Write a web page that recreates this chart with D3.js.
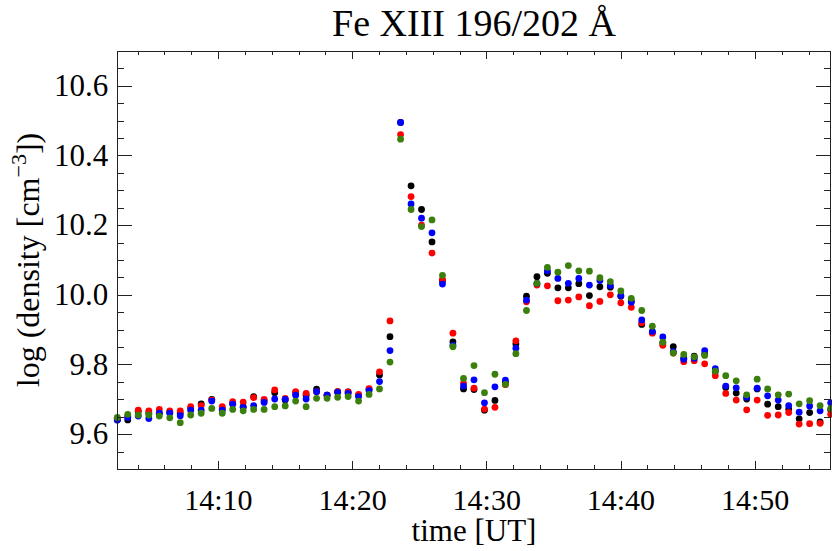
<!DOCTYPE html>
<meta charset="utf-8">
<style>
body { margin: 0; background: #fff; }
text { font-family: "Liberation Serif", "DejaVu Serif", serif; fill: #000; }
.frame line, .frame rect { stroke: #222; shape-rendering: crispEdges; }
</style>
<script src="https://d3js.org/d3.v7.min.js"></script>
<div id="chart"></div>
<script>

// minutes after 14:00 UT for each sample
var times = [2.47, 3.25, 4.03, 4.82, 5.60, 6.38, 7.16, 7.94, 8.72, 9.51,
  10.29, 11.07, 11.85, 12.63, 13.41, 14.20, 14.98, 15.76, 16.54, 17.32,
  18.10, 18.89, 19.67, 20.45, 21.23, 22.01, 22.79, 23.58, 24.36, 25.14,
  25.92, 26.70, 27.48, 28.27, 29.05, 29.83, 30.61, 31.39, 32.17, 32.96,
  33.74, 34.52, 35.30, 36.08, 36.86, 37.65, 38.43, 39.21, 39.99, 40.77,
  41.55, 42.34, 43.12, 43.90, 44.68, 45.46, 46.24, 47.03, 47.81, 48.59,
  49.37, 50.15, 50.93, 51.72, 52.50, 53.28, 54.06, 54.84, 55.63];

var blackVals = [9.641, 9.641, 9.665, 9.660, 9.660, 9.663, 9.660, 9.675, 9.687, 9.700,
  9.674, 9.688, 9.679, 9.708, 9.696, 9.719, 9.698, 9.719, 9.712, 9.729,
  9.712, 9.722, 9.721, 9.712, 9.729, 9.770, 9.880, 10.495, 10.313, 10.245,
  10.152, 10.040, 9.865, 9.730, 9.728, 9.669, 9.697, 9.748, 9.859, 9.996,
  10.052, 10.062, 10.020, 10.020, 10.032, 9.998, 10.023, 10.022, 9.996, 9.982,
  9.915, 9.892, 9.862, 9.851, 9.818, 9.824, 9.830, 9.780, 9.734, 9.718,
  9.701, 9.730, 9.686, 9.679, 9.672, 9.644, 9.662, 9.635, 9.670];

var redVals = [9.645, 9.650, 9.669, 9.667, 9.671, 9.667, 9.667, 9.679, 9.682, 9.698,
  9.679, 9.693, 9.692, 9.705, 9.700, 9.727, 9.703, 9.722, 9.717, 9.722,
  9.712, 9.722, 9.721, 9.714, 9.731, 9.779, 9.925, 10.460, 10.282, 10.200,
  10.120, 10.044, 9.890, 9.746, 9.732, 9.672, 9.677, 9.742, 9.868, 9.980,
  10.028, 10.026, 9.983, 9.985, 9.994, 9.969, 9.981, 10.000, 9.977, 9.964,
  9.920, 9.890, 9.855, 9.833, 9.808, 9.811, 9.802, 9.768, 9.717, 9.698,
  9.670, 9.698, 9.654, 9.655, 9.662, 9.629, 9.630, 9.631, 9.657];

var blueVals = [9.641, 9.648, 9.652, 9.645, 9.660, 9.660, 9.653, 9.669, 9.669, 9.695,
  9.669, 9.686, 9.677, 9.682, 9.691, 9.701, 9.700, 9.712, 9.701, 9.722,
  9.712, 9.720, 9.717, 9.708, 9.725, 9.751, 9.840, 10.495, 10.261, 10.220,
  10.178, 10.031, 9.855, 9.738, 9.756, 9.690, 9.736, 9.755, 9.847, 9.985,
  10.033, 10.069, 10.047, 10.033, 10.047, 10.028, 10.041, 10.027, 9.998, 9.979,
  9.928, 9.895, 9.879, 9.837, 9.815, 9.818, 9.840, 9.788, 9.738, 9.733,
  9.706, 9.732, 9.710, 9.698, 9.682, 9.663, 9.681, 9.667, 9.690];

var greenVals = [9.648, 9.657, 9.655, 9.655, 9.652, 9.647, 9.633, 9.655, 9.660, 9.674,
  9.660, 9.671, 9.667, 9.671, 9.671, 9.679, 9.681, 9.695, 9.679, 9.703,
  9.703, 9.706, 9.708, 9.695, 9.714, 9.730, 9.807, 10.447, 10.245, 10.196,
  10.215, 10.056, 9.851, 9.760, 9.797, 9.719, 9.772, 9.743, 9.831, 9.955,
  10.033, 10.079, 10.065, 10.084, 10.069, 10.068, 10.049, 10.038, 10.011, 9.990,
  9.955, 9.910, 9.864, 9.833, 9.829, 9.822, 9.826, 9.781, 9.768, 9.753,
  9.713, 9.758, 9.730, 9.713, 9.715, 9.687, 9.696, 9.682, 9.674];

var seriesNames = ["black", "red", "blue", "green"];
var seriesColors = ["#000000", "#ff0000", "#0000ff", "#3b7f0c"];
var seriesVals = [blackVals, redVals, blueVals, greenVals];

var xMajorTicks = [10, 20, 30, 40, 50];
var yMajorTicks = [9.6, 9.8, 10.0, 10.2, 10.4, 10.6];

var W = 832, H = 551;
var margin = {top: 51, right: 1.3, bottom: 82, left: 117.3};
var width = W - margin.left - margin.right,
    height = H - margin.top - margin.bottom;

var svg = d3.select("#chart").append("svg")
    .attr("width", W)
    .attr("height", H);

var g = svg.append("g")
    .attr("transform", "translate(" + margin.left + "," + margin.top + ")");

var x = d3.scaleLinear()
    .domain([times[0], times[times.length - 1]])
    .range([0, width]);

var y = d3.scaleLinear()
    .domain([9.5, 10.7])
    .range([height, 0]);

// ---- points ----
seriesVals.forEach(function(vals, k) {
  var pts = times.map(function(t, i) { return {t: t, v: vals[i]}; });
  g.append("g")
    .attr("class", "series-" + seriesNames[k])
    .selectAll("circle")
    .data(pts)
    .enter()
    .append("circle")
      .attr("cx", function(d) { return x(d.t); })
      .attr("cy", function(d) { return y(d.v); })
      .attr("r", 3.4)
      .style("fill", seriesColors[k]);
});

// ---- frame and inward ticks (all four sides, IDL style) ----
var frame = g.append("g").attr("class", "frame");
frame.append("rect")
    .attr("width", width).attr("height", height)
    .attr("fill", "none").attr("stroke-width", 1);

var xMinor = d3.range(4, 56, 2);
var yMinor = d3.range(9.55, 10.7, 0.05);

var xTickLen = 0.02 * height, yTickLen = 0.02 * width;

xMinor.forEach(function(m) {
  var len = (m % 10 === 0) ? xTickLen : xTickLen / 2;
  var px = Math.round(x(m)) + 0.5;
  if (px <= 0 || px >= width) return;
  frame.append("line").attr("x1", px).attr("x2", px).attr("y1", height).attr("y2", height - len);
  frame.append("line").attr("x1", px).attr("x2", px).attr("y1", 0).attr("y2", len);
});

yMinor.forEach(function(v) {
  var isMajor = yMajorTicks.some(function(t) { return Math.abs(t - v) < 1e-6; });
  var len = isMajor ? yTickLen : yTickLen / 2;
  var py = Math.round(y(v)) + 0.5;
  frame.append("line").attr("x1", 0).attr("x2", len).attr("y1", py).attr("y2", py);
  frame.append("line").attr("x1", width).attr("x2", width - len).attr("y1", py).attr("y2", py);
});

// ---- tick labels ----
g.selectAll(".xlab")
  .data(xMajorTicks)
  .enter()
  .append("text")
    .attr("class", "xlab")
    .attr("x", function(d) { return x(d); })
    .attr("y", height + 41)
    .attr("text-anchor", "middle")
    .style("font-size", "30px")
    .text(function(d) { return "14:" + d3.format("02d")(d); });

g.selectAll(".ylab")
  .data(yMajorTicks)
  .enter()
  .append("text")
    .attr("class", "ylab")
    .attr("x", -9)
    .attr("y", function(d) { return y(d) + 10; })
    .attr("text-anchor", "end")
    .style("font-size", "31px")
    .text(function(d) { return d3.format(".1f")(d); });

// ---- axis titles ----
svg.append("text")
    .attr("x", margin.left + width / 2)
    .attr("y", 541)
    .attr("text-anchor", "middle")
    .style("font-size", "31px")
    .text("time [UT]");

var ylab = svg.append("text")
    .attr("transform", "translate(39," + (margin.top + height / 2) + ") rotate(-90)")
    .attr("text-anchor", "middle")
    .style("font-size", "32px");
ylab.append("tspan").text("log (density [cm");
ylab.append("tspan").attr("dy", -13).style("font-size", "22px").text("\u22123");
ylab.append("tspan").attr("dy", 13).text("])");

svg.append("text")
    .attr("x", margin.left + width / 2)
    .attr("y", 36)
    .attr("text-anchor", "middle")
    .style("font-size", "38px")
    .text("Fe XIII 196/202 \u00C5");

</script>
